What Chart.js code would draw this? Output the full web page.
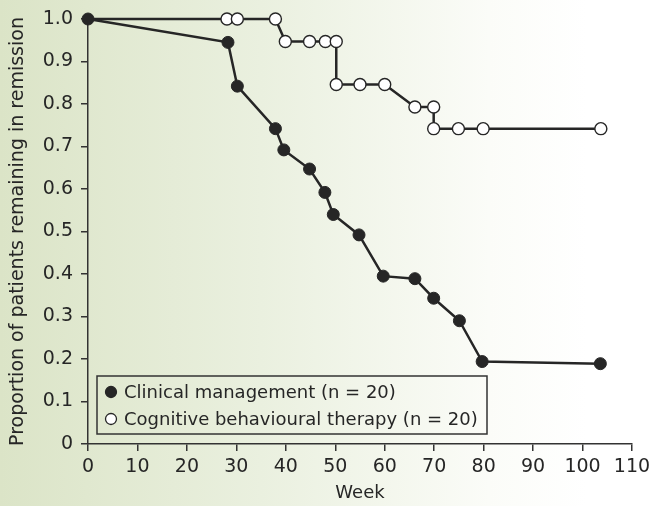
<!DOCTYPE html>
<html>
<head>
<meta charset="utf-8">
<script src="https://cdn.jsdelivr.net/npm/chart.js@4"></script>
<style>
  html, body { margin: 0; padding: 0; }
  body { width: 652px; height: 506px; background: linear-gradient(to right, #dbe4c7 0%, #eaf0df 40%, #fbfcf8 75%, #ffffff 90%); }
  #wrap { width: 652px; height: 506px; position: relative; }
</style>
</head>
<body>
<div id="wrap"><canvas id="c" width="652" height="506"></canvas></div>
<script>
const seriesLabels = ['Clinical management (n = 20)', 'Cognitive behavioural therapy (n = 20)'];
const cmWeeks = [0, 28.3, 30.2, 37.9, 39.6, 44.8, 47.9, 49.6, 54.8, 59.7, 66.1, 69.9, 75.1, 79.7, 103.6];
const cmValues = [1.0, 0.945, 0.842, 0.742, 0.692, 0.647, 0.592, 0.540, 0.492, 0.395, 0.389, 0.343, 0.290, 0.194, 0.189];
const cbtWeeks = [0, 28.1, 30.2, 37.9, 39.9, 44.8, 48.0, 50.2, 50.2, 55.0, 60.0, 66.1, 69.9, 69.9, 74.9, 79.9, 103.7];
const cbtValues = [1.0, 1.0, 1.0, 1.0, 0.947, 0.947, 0.947, 0.947, 0.846, 0.846, 0.846, 0.793, 0.793, 0.742, 0.742, 0.742, 0.742];
const xTicks = [0, 10, 20, 30, 40, 50, 60, 70, 80, 90, 100, 110];
const yTicks = [0, 0.1, 0.2, 0.3, 0.4, 0.5, 0.6, 0.7, 0.8, 0.9, 1.0];
const xTitle = 'Week';
const yTitle = 'Proportion of patients remaining in remission';

const FONT = "'DejaVu Sans', sans-serif";
const INK = '#262626';
const AXIS = '#333333';

const legendPlugin = {
  id: 'boxLegend',
  afterDraw(chart) {
    const ctx = chart.ctx;
    const a = chart.chartArea;
    const x0 = a.left + 9, y0 = a.bottom - 68, w = 390, h = 58;
    ctx.save();
    ctx.strokeStyle = AXIS;
    ctx.lineWidth = 1.5;
    ctx.strokeRect(x0, y0, w, h);
    ctx.font = "18px " + FONT;
    ctx.textBaseline = 'middle';
    chart.data.datasets.forEach((ds, i) => {
      const cy = y0 + 16 + i * 27;
      ctx.beginPath();
      ctx.arc(x0 + 14, cy, 5.5, 0, Math.PI * 2);
      ctx.fillStyle = ds.pointBackgroundColor;
      ctx.fill();
      ctx.lineWidth = 1.3;
      ctx.strokeStyle = INK;
      ctx.stroke();
      ctx.fillStyle = INK;
      ctx.fillText(ds.label, x0 + 27, cy + 1);
    });
    ctx.restore();
  }
};

new Chart(document.getElementById('c'), {
  type: 'line',
  data: {
    datasets: [
      {
        label: seriesLabels[0],
        data: cmWeeks.map((w, i) => ({ x: w, y: cmValues[i] })),
        borderColor: INK,
        borderWidth: 2.5,
        pointBackgroundColor: INK,
        pointBorderColor: INK,
        pointBorderWidth: 1,
        pointRadius: 6,
        tension: 0,
        fill: false,
        clip: false
      },
      {
        label: seriesLabels[1],
        data: cbtWeeks.map((w, i) => ({ x: w, y: cbtValues[i] })),
        borderColor: INK,
        borderWidth: 2.5,
        pointBackgroundColor: '#ffffff',
        pointBorderColor: INK,
        pointBorderWidth: 1.4,
        pointRadius: cbtWeeks.map((w, i) => i === 0 ? 0 : 6),
        tension: 0,
        fill: false,
        clip: false
      }
    ]
  },
  options: {
    responsive: false,
    animation: false,
    layout: { padding: { left: 0, right: 20, top: 19, bottom: 0 } },
    plugins: {
      legend: { display: false },
      tooltip: { enabled: false }
    },
    scales: {
      x: {
        type: 'linear',
        min: 0, max: 110,
        afterBuildTicks(s) { s.ticks = xTicks.map(v => ({ value: v })); },
        afterFit(s) { s.height = 62; s.paddingRight = 0; s.paddingLeft = 0; },
        grid: { display: true, drawOnChartArea: false, drawTicks: true, tickLength: 7, color: AXIS, lineWidth: 1.5 },
        border: { display: true, color: AXIS, width: 1.5 },
        ticks: { color: INK, font: { family: FONT, size: 19 }, padding: 5, maxRotation: 0, autoSkip: false },
        title: { display: true, text: xTitle, color: INK, font: { family: FONT, size: 18 }, padding: { top: 0, bottom: 2 } }
      },
      y: {
        type: 'linear',
        min: 0, max: 1,
        afterBuildTicks(s) { s.ticks = yTicks.map(v => ({ value: v })); },
        afterFit(s) { s.width = 88; s.paddingTop = 0; s.paddingBottom = 0; },
        grid: { display: true, drawOnChartArea: false, drawTicks: true, tickLength: 7, color: AXIS, lineWidth: 1.5 },
        border: { display: true, color: AXIS, width: 1.5 },
        ticks: { color: INK, font: { family: FONT, size: 19 }, padding: 8, autoSkip: false,
                 callback: v => v === 0 ? '0' : v.toFixed(1) },
        title: { display: true, text: yTitle, color: INK, font: { family: FONT, size: 19 }, padding: { top: 7, bottom: 0 } }
      }
    }
  },
  plugins: [legendPlugin]
});
</script>
</body>
</html>
